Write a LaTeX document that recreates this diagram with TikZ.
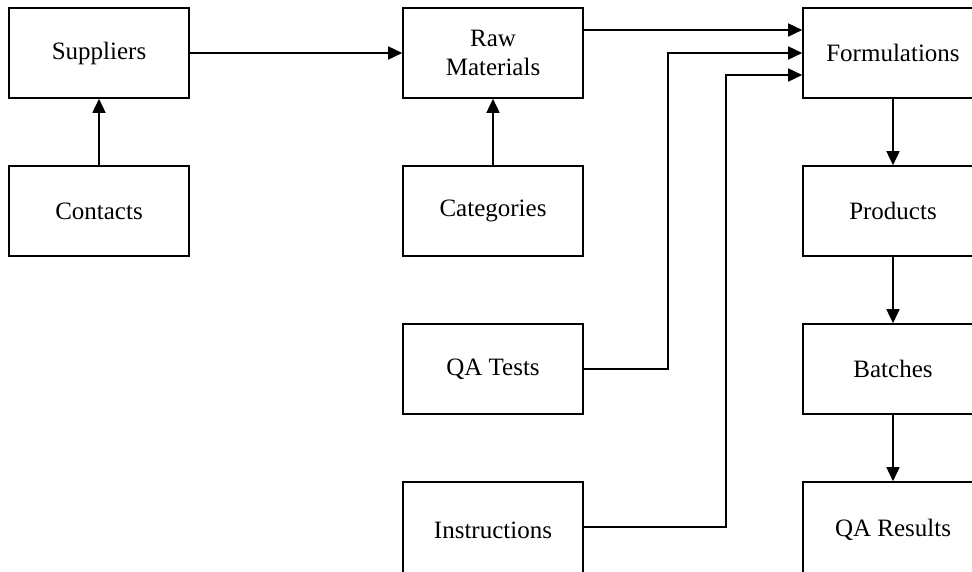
\documentclass[tikz,border=0pt]{standalone}
\usepackage{fontspec}
\setmainfont{Liberation Serif}
\usetikzlibrary{arrows.meta}
\begin{document}
\begin{tikzpicture}[x=1pt,y=-1pt,
  tbl/.style={draw, line width=1.6pt, minimum width=180pt, minimum height=90pt, align=center, font=\fontsize{25}{29}\selectfont},
  lnk/.style={line width=1.6pt, -{Triangle[length=14pt,width=13pt]}}]
\clip (0,0) rectangle (972,571);
\useasboundingbox (0,0) rectangle (972,571);
\node[tbl] (sup) at (99,53){Suppliers};
\node[tbl] (con) at (99,211){Contacts};
\draw[lnk](con) -- (sup);
\node[tbl] (raw) at (493,53){Raw\\Materials};
\node[tbl] (cat) at (493,211){Categories};
\node[tbl] (qat) at (493,369){QA Tests};
\node[tbl, minimum height=96pt] (ins) at (493,530){Instructions};
\draw[lnk](cat) -- (raw);
\draw[lnk](sup) -- (raw);
\node[tbl] (frm) at (893,53){Formulations};
\node[tbl] (prd) at (893,211){Products};
\node[tbl] (bat) at (893,369){Batches};
\node[tbl, minimum height=96pt] (qar) at (893,530){QA Results};
\draw[lnk]([yshift=23pt]raw.east) -- ([yshift=23pt]frm.west);
\draw[lnk](qat.east) -- ++(84,0) |- (frm.west);
\draw[lnk]([yshift=3pt]ins.east) -- ++(142,0) |- ([yshift=-22pt]frm.west);
\draw[lnk](frm) -- (prd);
\draw[lnk](prd) -- (bat);
\draw[lnk](bat) -- (qar);
\end{tikzpicture}
\end{document}
